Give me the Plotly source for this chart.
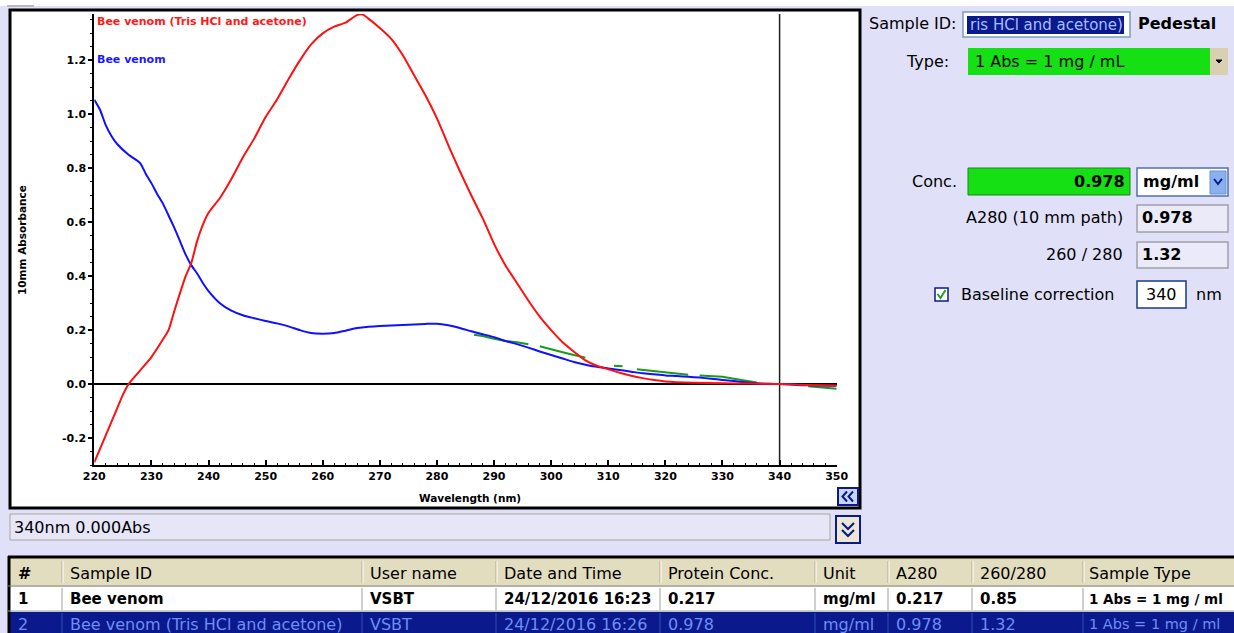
import plotly.graph_objects as go

W, H = 1234, 633

# ---------------- data ----------------
wavelength_red = [220, 221, 222, 223, 224, 225, 226, 228, 230, 232, 233, 234, 236, 237, 238, 239, 240,
                  242, 244, 246, 248, 250, 252, 254, 256, 258, 260, 262, 264, 266, 267, 268, 270,
                  272, 274, 276, 278, 280, 282, 284, 286, 288, 290, 292, 294, 296, 298, 300, 302,
                  304, 306, 308, 310, 312, 314, 316, 318, 320, 325, 330, 335, 340, 345, 350]
absorbance_red = [-0.29, -0.24, -0.19, -0.14, -0.09, -0.04, 0.0, 0.05, 0.10, 0.165, 0.20, 0.27, 0.40, 0.45,
                  0.53, 0.59, 0.635, 0.69, 0.76, 0.84, 0.91, 0.99, 1.055, 1.13, 1.20, 1.26, 1.30, 1.325,
                  1.34, 1.368, 1.37, 1.355, 1.32, 1.28, 1.22, 1.145, 1.07, 0.985, 0.885, 0.79, 0.70, 0.615,
                  0.52, 0.44, 0.375, 0.31, 0.25, 0.20, 0.155, 0.12, 0.088, 0.068, 0.055, 0.042, 0.031,
                  0.022, 0.015, 0.010, 0.005, 0.003, 0.002, 0.0, -0.003, -0.005]

wavelength_blue = [220, 221, 222, 223, 224, 226, 228, 229, 230, 231, 232, 233, 234, 235, 236, 237, 238,
                   239, 240, 242, 244, 246, 248, 250, 252, 254, 256, 258, 260, 262, 264, 266, 268, 270,
                   272, 274, 276, 278, 280, 282, 284, 286, 288, 290, 292, 294, 296, 298, 300, 302, 304,
                   306, 308, 310, 312, 314, 316, 318, 320, 322, 324, 326, 328, 330, 332, 334, 336, 338,
                   340, 342, 344, 346, 348, 350]
absorbance_blue = [1.054, 1.017, 0.96, 0.92, 0.89, 0.85, 0.82, 0.78, 0.745, 0.705, 0.67, 0.625, 0.58,
                   0.53, 0.48, 0.44, 0.41, 0.375, 0.345, 0.30, 0.272, 0.255, 0.244, 0.234, 0.225, 0.214,
                   0.20, 0.189, 0.187, 0.189, 0.198, 0.208, 0.213, 0.215, 0.217, 0.219, 0.221, 0.223,
                   0.224, 0.218, 0.208, 0.196, 0.185, 0.174, 0.160, 0.148, 0.135, 0.121, 0.108, 0.095,
                   0.082, 0.072, 0.064, 0.058, 0.052, 0.046, 0.040, 0.036, 0.032, 0.030, 0.027, 0.024,
                   0.020, 0.015, 0.011, 0.007, 0.003, 0.001, 0.0, -0.002, -0.004, -0.005, -0.006, -0.006]

wavelength_green = [286.5, 288, 290, 292, 294, 296, None, 298, 300, 302, 304, 306, None, 311, 312.5, None,
                    315, 318, 320, 322, 324, None, 326, 328, 330, 332, 334, 336, None, 345, 347, 349, 350]
absorbance_green = [0.183, 0.178, 0.168, 0.160, 0.155, 0.148, None, 0.140, 0.128, 0.118, 0.108, 0.098, None,
                    0.068, 0.066, None, 0.055, 0.048, 0.044, 0.040, 0.035, None, 0.032, 0.030, 0.027, 0.020,
                    0.014, 0.006, None, -0.008, -0.012, -0.016, -0.017]

series_names = ["Bee venom (Tris HCl and acetone)", "Bee venom"]
x_tick_vals = [220, 230, 240, 250, 260, 270, 280, 290, 300, 310, 320, 330, 340, 350]
y_tick_vals = [-0.2, 0.0, 0.2, 0.4, 0.6, 0.8, 1.0, 1.2]
y_tick_text = ["-0.2", "0.0", "0.2", "0.4", "0.6", "0.8", "1.0", "1.2"]
baseline_nm = 340

table_columns = ["#", "Sample ID", "User name", "Date and Time", "Protein Conc.", "Unit", "A280",
                 "260/280", "Sample Type"]
table_row1 = ["1", "Bee venom", "VSBT", "24/12/2016 16:23", "0.217", "mg/ml", "0.217", "0.85",
              "1 Abs = 1 mg / ml"]
table_row2 = ["2", "Bee venom (Tris HCl and acetone)", "VSBT", "24/12/2016 16:26", "0.978", "mg/ml",
              "0.978", "1.32", "1 Abs = 1 mg / ml"]

# ---------------- styling / layout helpers ----------------
LAV = "#E0E0F8"
NAVY = "#0A1A8C"
GREEN = "#14E014"
FONT = "DejaVu Sans"


def px(x):
    return x / W


def py(y):
    return 1 - y / H


shapes = []
annotations = []


def rect(x0, y0, x1, y1, fill, line=None, lw=0, layer="below"):
    shapes.append(dict(type="rect", xref="paper", yref="paper", x0=px(x0), x1=px(x1),
                       y0=py(y1), y1=py(y0), fillcolor=fill,
                       line=dict(color=line if line else fill, width=lw), layer=layer))


def hline(x0, x1, y, color, lw=1, layer="below"):
    shapes.append(dict(type="line", xref="paper", yref="paper", x0=px(x0), x1=px(x1),
                       y0=py(y), y1=py(y), line=dict(color=color, width=lw), layer=layer))


def vline(x, y0, y1, color, lw=1, layer="below"):
    shapes.append(dict(type="line", xref="paper", yref="paper", x0=px(x), x1=px(x),
                       y0=py(y0), y1=py(y1), line=dict(color=color, width=lw), layer=layer))


def path(points, color, lw=1.5, fill=None, close=False, layer="above"):
    d = "M " + " L ".join(f"{px(a):.6f},{py(b):.6f}" for a, b in points)
    if close:
        d += " Z"
    shapes.append(dict(type="path", xref="paper", yref="paper", path=d,
                       line=dict(color=color, width=lw),
                       fillcolor=fill if fill else "rgba(0,0,0,0)", layer=layer))


def text(x, y, s, size=16, color="black", bold=False, anchor="left", family=FONT, angle=0):
    annotations.append(dict(x=px(x), y=py(y), xref="paper", yref="paper", text=s,
                            showarrow=False, xanchor=anchor, yanchor="middle", textangle=angle,
                            borderpad=0,
                            font=dict(family=family, size=size, color=color,
                                      weight="bold" if bold else "normal")))


# top white strip
rect(0, 0, W, 6, "white")
rect(7, 5, 34, 7, "#B8B8C8")

# chart frame
rect(10, 10, 860, 508, "white", line="black", lw=3)

# "<<" button
rect(838, 488, 858, 505, "#C9D6F0", line=NAVY, lw=2, layer="above")
path([(847, 491.5), (842.5, 496.5), (847, 501.5)], NAVY, lw=2)
path([(853, 491.5), (848.5, 496.5), (853, 501.5)], NAVY, lw=2)

# status bar
rect(10, 514, 830, 540, "#E6E6F8", line="#A8A898", lw=1)
text(13, 527, "340nm 0.000Abs", size=16)
rect(836, 516, 860, 543, "#ECE6D2", line=NAVY, lw=2)
path([(842, 523), (848, 529), (854, 523)], NAVY, lw=2.2)
path([(842, 530), (848, 536), (854, 530)], NAVY, lw=2.2)

# right panel
text(958, 24, "Sample ID:", size=16, anchor="right")
rect(963, 12, 1130, 37, "white", line="#7F9DB9", lw=1.5)
rect(967, 16, 1124, 34, NAVY)
text(969, 25, "ris HCl and acetone)", size=15, color="#A8BCFF")
text(1137, 24, "Pedestal", size=16, bold=True)

text(950, 61, "Type:", size=16, anchor="right")
rect(968, 48, 1210, 75, GREEN)
text(974, 61, "1 Abs = 1 mg / mL", size=16)
rect(1210, 48, 1228, 75, "#D9D0B0")
path([(1216, 60), (1222, 60), (1219, 63)], "black", lw=1, fill="black", close=True)

text(958, 182, "Conc.", size=16, anchor="right")
rect(968, 168, 1130, 195, GREEN, line="#208020", lw=1)
text(1126, 182, "0.978", size=16, bold=True, anchor="right")
rect(1137, 168, 1228, 196, "white", line="#5070B0", lw=1.5)
text(1142, 182, "mg/ml", size=16, bold=True)
rect(1210, 171, 1226, 194, "#8AB0F0", line="#6A90D0", lw=1)
path([(1214, 179), (1218, 184), (1222, 179)], NAVY, lw=2)

text(1124, 217, "A280 (10 mm path)", size=16, anchor="right")
rect(1137, 205, 1228, 232, "#EAEAF8", line="#A0A0A8", lw=1.5)
text(1141, 217, "0.978", size=16, bold=True)

text(1124, 254, "260 / 280", size=16, anchor="right")
rect(1137, 242, 1228, 268, "#EAEAF8", line="#A0A0A8", lw=1.5)
text(1141, 254, "1.32", size=16, bold=True)

rect(935, 288, 948, 301, "white", line=NAVY, lw=1.5)
path([(937.5, 294), (940.5, 298), (945.5, 290)], "#22A022", lw=2)
text(960, 294, "Baseline correction", size=16)
rect(1137, 281, 1186, 308, "white", line="#1A3A8C", lw=1.5)
text(1161, 294, "340", size=16, anchor="center")
text(1195, 294, "nm", size=16)

# table
col_edges = [10, 62, 362, 496, 660, 815, 888, 972, 1083, 1240]
rect(8, 558, W, 586, "#E3DDC0")
rect(8, 587, W, 611, "white")
rect(8, 612, W, 640, NAVY)
hline(8, W, 557, "black", lw=3)
vline(9, 556, 633, "black", lw=3)
hline(8, W, 586, "#8A8470", lw=1)
hline(8, W, 611, "#A0A0A0", lw=1)
for xe in col_edges[1:-1]:
    vline(xe, 561, 583, "#B0A888", lw=1)
    vline(xe + 1, 561, 583, "#FFFFFF", lw=1)
    vline(xe, 588, 610, "#A0A0A0", lw=1)
    vline(xe, 613, 633, "#3050B0", lw=1)
last = len(col_edges) - 2
for i, xe in enumerate(col_edges[:-1]):
    tx = xe + 7 if i > 0 else 17
    if i == last:
        tx = xe + 5
    text(tx, 573, table_columns[i], size=16, bold=(i == 0))
    text(tx, 599, table_row1[i], size=13.5 if i == last else 15, bold=True)
    text(tx, 624, table_row2[i], size=14.5 if i == last else 16, color="#6E8EF5")

# chart labels
text(96, 22, series_names[0], size=11, color="#FF1A1A", bold=True)
text(96, 60, series_names[1], size=11, color="#1A1AFF", bold=True)
text(470, 498, "Wavelength (nm)", size=10.5, bold=True, anchor="center")
text(22, 240, "10mm Absorbance", size=10.5, bold=True, anchor="center", angle=-90)

# baseline marker line (data coords)
shapes.append(dict(type="line", xref="x", yref="y domain", x0=baseline_nm, x1=baseline_nm,
                   y0=0, y1=1, line=dict(color="#202020", width=1.5), layer="below"))

fig = go.Figure()
fig.add_trace(go.Scatter(x=wavelength_green, y=absorbance_green, mode="lines",
                         line=dict(color="#1A9A1A", width=2), connectgaps=False,
                         hoverinfo="skip", showlegend=False))
fig.add_trace(go.Scatter(x=wavelength_blue, y=absorbance_blue, mode="lines", name=series_names[1],
                         line=dict(color="#1010FF", width=2, shape="spline", smoothing=0.6),
                         showlegend=False))
fig.add_trace(go.Scatter(x=wavelength_red, y=absorbance_red, mode="lines", name=series_names[0],
                         line=dict(color="#FF1010", width=2, shape="spline", smoothing=0.6),
                         showlegend=False))

x_dom = [94.3 / W, 836.7 / W]
y_dom = [1 - 465 / H, 1 - 14 / H]

fig.update_layout(
    template="none",
    width=W, height=H, autosize=False,
    margin=dict(l=0, r=0, t=0, b=0, pad=0),
    paper_bgcolor=LAV, plot_bgcolor="white",
    showlegend=False,
    xaxis=dict(domain=x_dom, range=[220, 350], showgrid=False, zeroline=False,
               showline=True, linecolor="black", linewidth=2,
               tickmode="array", tickvals=x_tick_vals, ticks="inside", ticklen=5, tickwidth=1.5,
               tickcolor="black",
               minor=dict(dtick=2, tick0=220, ticks="inside", ticklen=2.5, tickwidth=1.2,
                          tickcolor="black", showgrid=False),
               tickfont=dict(family=FONT, size=11, color="black", weight="bold"),
               automargin=False, fixedrange=True),
    yaxis=dict(domain=y_dom, range=[-0.3, 1.372], showgrid=False,
               zeroline=True, zerolinecolor="black", zerolinewidth=2,
               showline=True, linecolor="black", linewidth=2,
               tickmode="array", tickvals=y_tick_vals, ticktext=y_tick_text,
               ticks="outside", ticklen=4, tickwidth=1.5, tickcolor="black",
               minor=dict(dtick=0.05, tick0=0, ticks="outside", ticklen=2.5, tickwidth=1.2,
                          tickcolor="black", showgrid=False),
               tickfont=dict(family=FONT, size=11, color="black", weight="bold"),
               automargin=False, fixedrange=True),
    shapes=shapes,
    annotations=annotations,
)

fig.write_html("out.html", config=dict(displayModeBar=False))
